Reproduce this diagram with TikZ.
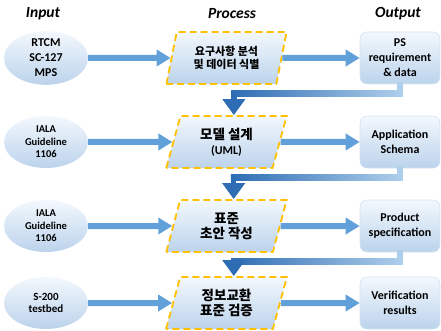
\documentclass[tikz,border=0pt]{standalone}
\usepackage{fontspec}
\setmainfont{Carlito}
\newfontfamily\kor{Noto Sans CJK KR}
\usepackage{tikz}
\usetikzlibrary{shapes.geometric}
\usetikzlibrary{arrows.meta}
\usetikzlibrary{calc}

\definecolor{flowblue}{HTML}{62A0D9}
\definecolor{darkblue}{HTML}{2E6DB4}
\definecolor{paleblue}{HTML}{AFCFEC}
\definecolor{dashgold}{HTML}{FFC000}
\definecolor{fillhi}{HTML}{F3F8FD}
\definecolor{filllo}{HTML}{BCD3EC}
\definecolor{rimblue}{HTML}{D3E3F3}

\begin{document}
\begin{tikzpicture}[x=1pt,y=-1pt,>/.tip={Triangle[length=14pt,width=16pt]},
	head/.style={font=\bfseries\itshape\fontsize{15.5}{18}\selectfont},
	inp/.style={shape=ellipse,minimum width=84pt,minimum height=52pt,inner sep=0pt,top color=fillhi,bottom color=filllo,align=center,font=\bfseries\fontsize{10.5}{12.5}\selectfont},
	proc/.style={shape=trapezium,trapezium left angle=75,trapezium right angle=105,trapezium stretches=true,minimum width=121pt,minimum height=52pt,inner sep=2pt,draw=dashgold,line width=1.8pt,dash pattern=on 7pt off 4pt,top color=fillhi,bottom color=filllo,align=center,font=\kor\bfseries\fontsize{13.5}{15.5}\selectfont},
	outp/.style={shape=rectangle,rounded corners=7pt,minimum width=80pt,minimum height=52pt,inner sep=2pt,draw=rimblue,line width=0.6pt,top color=fillhi,bottom color=filllo,align=center,font=\bfseries\fontsize{12}{15}\selectfont},
	flow/.style={->,line width=6pt,draw=flowblue},
	elbowup/.style={line width=5.5pt,draw=paleblue,line cap=rect},
	elbowdown/.style={-{Triangle[length=16pt,width=22pt]},line width=5.5pt,draw=darkblue}]
	\useasboundingbox (0,0) rectangle (441,331);
	% column titles
	\draw (43,14) node (tin) [head] {Input};
	\draw (232,14) node (tpr) [head] {Process};
	\draw (398,14) node (tout) [head] {Output};
	% row 1
	\draw (46,58) node (in1) [inp,font=\bfseries\fontsize{12}{15}\selectfont] {RTCM\\SC-127\\MPS};
	\draw (226.5,58) node (pr1) [proc,font=\kor\bfseries\fontsize{11}{12.5}\selectfont] {요구사항 분석\\및 데이터 식별};
	\draw (400,58) node (out1) [outp] {PS\\requirement\\\& data};
	% row 2
	\draw (46,142) node (in2) [inp] {IALA\\Guideline\\1106};
	\draw (226.5,142) node (pr2) [proc] {모델 설계\\{\rmfamily\bfseries\fontsize{12}{14}\selectfont (UML)}};
	\draw (400,142) node (out2) [outp] {Application\\Schema};
	% row 3
	\draw (46,226) node (in3) [inp] {IALA\\Guideline\\1106};
	\draw (226.5,226) node (pr3) [proc] {표준\\초안 작성};
	\draw (400,226) node (out3) [outp] {Product\\specification};
	% row 4
	\draw (46,303) node (in4) [inp,font=\bfseries\fontsize{11}{12.5}\selectfont] {S-200\\testbed};
	\draw (226.5,303) node (pr4) [proc] {정보교환\\표준 검증};
	\draw (400,303) node (out4) [outp] {Verification\\results};
	% flows
	\foreach \r in {1,2,3,4} {
		\draw[flow] (in\r) -- (pr\r);
		\draw[flow] (pr\r) -- (out\r);
	}
	% elbows down to the next process
	\foreach \r/\s in {1/2,2/3,3/4} {
		\coordinate (k\r) at ($(out\r.south)+(0,9)$);
		\coordinate (t\s) at ($(pr\s.top left corner)!0.5!(pr\s.top right corner)$);
		\draw[elbowup] (out\r.south) -- (k\r);
		\shade[left color=darkblue,right color=paleblue] ($(k\r -| t\s)+(-2.75,-2.75)$) rectangle ($(k\r)+(2.75,2.75)$);
		\draw[elbowdown] (k\r -| t\s) -- (t\s);
	}
\end{tikzpicture}
\end{document}
